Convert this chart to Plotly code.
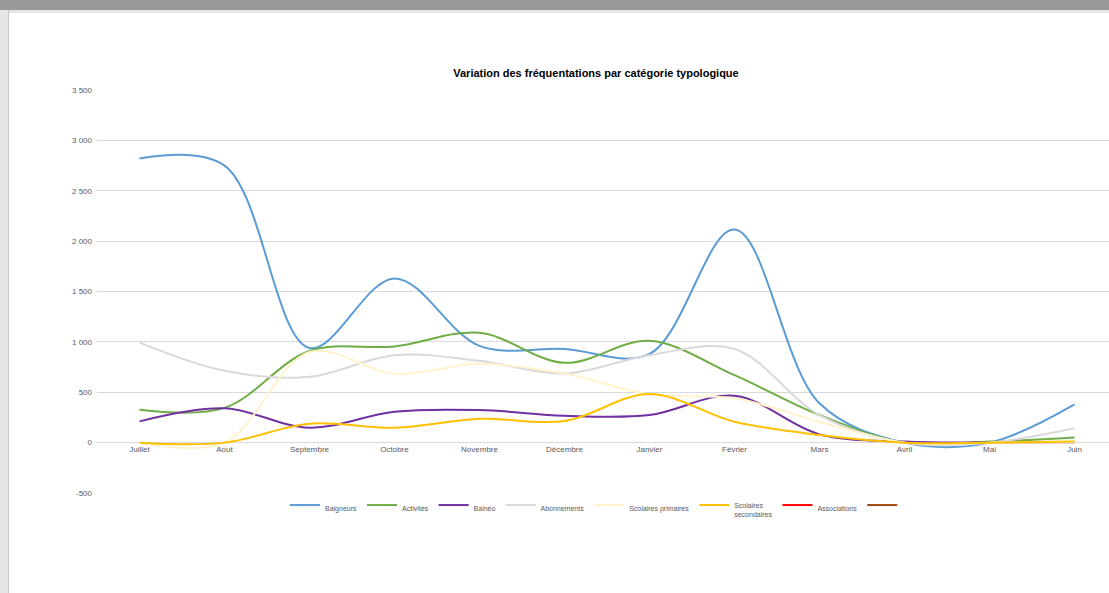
import plotly.graph_objects as go

W, H = 1109, 593

mois = ["Juillet", "Aout", "Septembre", "Octobre", "Novembre", "Décembre",
        "Janvier", "Février", "Mars", "Avril", "Mai", "Juin"]

baigneurs = [2820, 2750, 940, 1630, 960, 930, 880, 2115, 390, 0, 0, 380]
activites = [327, 345, 910, 955, 1090, 792, 1010, 670, 274, 0, 10, 50]
balneo = [211, 340, 148, 307, 323, 267, 274, 465, 82, 10, 0, 0]
abonnements = [993, 713, 653, 868, 812, 686, 868, 930, 274, 0, 0, 142]
scol_primaires = [0, 0, 900, 683, 782, 686, 480, 440, 208, 0, 0, 0]
scol_secondaires = [0, 0, 188, 148, 237, 214, 482, 208, 76, 0, 0, 10]
associations = [None] * 12
autre = [None] * 12

series = [
    ("Baigneurs", baigneurs, "#5B9BD5"),
    ("Activités", activites, "#70AD47"),
    ("Balnéo", balneo, "#7030A0"),
    ("Abonnements", abonnements, "#D9D9D9"),
    ("Scolaires primaires", scol_primaires, "#FFF2CC"),
    ("Scolaires<br>secondaires", scol_secondaires, "#FFC000"),
    ("Associations", associations, "#FF0000"),
    (" ", autre, "#9E480E"),
]

yticks = [-500, 0, 500, 1000, 1500, 2000, 2500, 3000, 3500]
ytext = ["-500", "0", "500", "1 000", "1 500", "2 000", "2 500", "3 000", "3 500"]

fig = go.Figure()
for name, vals, color in series:
    fig.add_trace(go.Scatter(
        x=mois, y=vals, name=name, mode="lines",
        line=dict(color=color, width=2, shape="spline", smoothing=1),
    ))

# plot area: left 97px, right edge of page, top 90px, bottom 493px
L, R, T, B = 97, 0, 90, 100
pw = W - L - R
ymin, ymax = -500, 3500


def px_x(p):
    return (p - L) / pw


def px_y(p):
    return (H - B - p) / (H - T - B)


fig.update_layout(
    width=W, height=H,
    margin=dict(l=L, r=R, t=T, b=B),
    paper_bgcolor="white", plot_bgcolor="white",
    font=dict(family="Liberation Sans, Arial, sans-serif", size=8, color="#595959"),
    title=dict(
        text="<b>Variation des fréquentations par catégorie typologique</b>",
        x=596 / W, xref="container", xanchor="center",
        y=1 - 73 / H, yref="container", yanchor="middle",
        font=dict(size=11, color="#000000"),
    ),
    xaxis=dict(
        type="category", range=[-0.5, -0.5 + pw / 85.0],
        showgrid=False, zeroline=False, showline=False, ticks="",
        anchor="free", position=(0 - ymin) / (ymax - ymin),
        tickfont=dict(size=8, color="#595959"),
    ),
    yaxis=dict(
        range=[ymin, ymax], tickvals=yticks, ticktext=ytext,
        showgrid=True, gridcolor="#D9D9D9", gridwidth=1,
        zeroline=False, showline=False, ticks="", ticklabelstandoff=4,
        tickfont=dict(size=8, color="#595959"),
    ),
    legend=dict(
        orientation="h", x=px_x(285), xanchor="left", y=px_y(510), yanchor="middle",
        font=dict(size=7, color="#595959"), bgcolor="rgba(0,0,0,0)",
        tracegroupgap=0, valign="top",
    ),
    showlegend=True,
)

# window frame: grey band on top, light strip on the left
fig.add_shape(type="rect", xref="paper", yref="paper",
              x0=px_x(0), x1=px_x(W), y0=px_y(13), y1=px_y(0),
              fillcolor="#E4E4E4", line_width=0, layer="above")
fig.add_shape(type="rect", xref="paper", yref="paper",
              x0=px_x(0), x1=px_x(W), y0=px_y(10), y1=px_y(0),
              fillcolor="#999999", line_width=0, layer="above")
fig.add_shape(type="rect", xref="paper", yref="paper",
              x0=px_x(0), x1=px_x(8), y0=px_y(H), y1=px_y(10),
              fillcolor="#E6E6E6", line_width=0, layer="above")
fig.add_shape(type="line", xref="paper", yref="paper",
              x0=px_x(8.5), x1=px_x(8.5), y0=px_y(H), y1=px_y(10),
              line=dict(color="#C8C8C8", width=1), layer="above")

fig.write_html("out.html", config={"displayModeBar": False},
               post_script="document.body.style.margin='0px';")
